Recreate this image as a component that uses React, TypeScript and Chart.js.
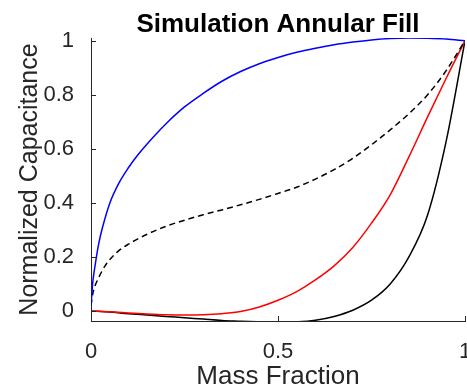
import React, { useEffect, useRef } from "react";
import { Chart, registerables } from "chart.js";

Chart.register(...registerables);

// Mass fraction samples and normalized capacitance for each curve
const blueX = [0, 0.005, 0.01, 0.02, 0.03, 0.05, 0.075, 0.1, 0.125, 0.15, 0.2, 0.25, 0.3, 0.35, 0.4, 0.45, 0.5, 0.55, 0.6, 0.65, 0.7, 0.75, 0.8, 0.85, 0.9, 0.95, 1.0];
const blueY = [0.02, 0.11, 0.16, 0.245, 0.305, 0.398, 0.474, 0.53, 0.577, 0.618, 0.692, 0.755, 0.805, 0.85, 0.886, 0.915, 0.938, 0.957, 0.972, 0.985, 0.995, 1.003, 1.008, 1.01, 1.009, 1.006, 1.0];

const dashedX = [0, 0.005, 0.01, 0.02, 0.04, 0.07, 0.1, 0.15, 0.2, 0.25, 0.3, 0.35, 0.4, 0.45, 0.5, 0.55, 0.6, 0.65, 0.7, 0.75, 0.8, 0.85, 0.9, 0.95, 1.0];
const dashedY = [0.02, 0.065, 0.09, 0.122, 0.172, 0.218, 0.247, 0.284, 0.313, 0.336, 0.356, 0.374, 0.393, 0.413, 0.435, 0.458, 0.488, 0.523, 0.565, 0.615, 0.67, 0.73, 0.8, 0.89, 1.0];

const redX = [0, 0.05, 0.1, 0.15, 0.2, 0.25, 0.3, 0.35, 0.4, 0.45, 0.5, 0.55, 0.6, 0.65, 0.7, 0.75, 0.8, 0.85, 0.9, 0.95, 1.0];
const redY = [0, -0.003, -0.007, -0.011, -0.014, -0.015, -0.014, -0.01, -0.002, 0.015, 0.04, 0.072, 0.115, 0.167, 0.235, 0.325, 0.43, 0.57, 0.718, 0.862, 1.0];

const blackX = [0, 0.05, 0.1, 0.15, 0.2, 0.25, 0.3, 0.35, 0.4, 0.45, 0.5, 0.55, 0.6, 0.65, 0.7, 0.75, 0.8, 0.85, 0.9, 0.95, 1.0];
const blackY = [0, -0.004, -0.01, -0.015, -0.02, -0.025, -0.03, -0.035, -0.038, -0.04, -0.041, -0.04, -0.034, -0.02, 0.003, 0.04, 0.1, 0.2, 0.355, 0.63, 1.0];

const xTickValues = [0, 0.5, 1];
const xTickLabels = ["0", "0.5", "1"];
const yTickValues = [0, 0.2, 0.4, 0.6, 0.8, 1];
const yTickLabels = ["0", "0.2", "0.4", "0.6", "0.8", "1"];

const FONT = "'Liberation Sans', Arial, Helvetica, sans-serif";
const AXIS_COLOR = "#262626";

const toPoints = (xs: number[], ys: number[]) => xs.map((x, i) => ({ x, y: ys[i] }));

// Short tick marks drawn inward from the axis lines
const inwardTicks = {
  id: "inwardTicks",
  afterDraw(chart: any) {
    const { ctx, chartArea, scales } = chart;
    const len = 5;
    ctx.save();
    ctx.strokeStyle = AXIS_COLOR;
    ctx.lineWidth = 1;
    ctx.beginPath();
    xTickValues.forEach((v) => {
      const px = Math.round(scales.x.getPixelForValue(v)) + 0.5;
      ctx.moveTo(px, chartArea.bottom);
      ctx.lineTo(px, chartArea.bottom - len);
    });
    yTickValues.forEach((v) => {
      const py = Math.round(scales.y.getPixelForValue(v)) + 0.5;
      ctx.moveTo(chartArea.left, py);
      ctx.lineTo(chartArea.left + len, py);
    });
    ctx.stroke();
    ctx.restore();
  },
};

export default function App() {
  const canvasRef = useRef<HTMLCanvasElement | null>(null);

  useEffect(() => {
    if (!canvasRef.current) return;
    const common = {
      pointRadius: 0,
      borderWidth: 1.5,
      cubicInterpolationMode: "monotone" as const,
      fill: false,
    };
    const chart = new Chart(canvasRef.current, {
      type: "line",
      data: {
        datasets: [
          { ...common, data: toPoints(blueX, blueY), borderColor: "#0000ff" },
          { ...common, data: toPoints(dashedX, dashedY), borderColor: "#000000", borderDash: [6, 4] },
          { ...common, data: toPoints(redX, redY), borderColor: "#ff0000" },
          { ...common, data: toPoints(blackX, blackY), borderColor: "#000000" },
        ],
      },
      options: {
        responsive: false,
        animation: false,
        layout: { padding: { top: 0, right: 2, left: 0, bottom: 0 } },
        plugins: {
          legend: { display: false },
          tooltip: { enabled: false },
          title: {
            display: true,
            text: "Simulation Annular Fill",
            fullSize: false,
            color: "#000000",
            font: { family: FONT, size: 26, weight: "bold", lineHeight: 1 },
            padding: { top: 12, bottom: 0 },
          },
        },
        scales: {
          x: {
            type: "linear",
            min: 0,
            max: 1,
            grid: { display: false },
            border: { display: true, color: AXIS_COLOR, width: 1 },
            afterFit(scale: any) {
              scale.height = 69;
              scale.paddingLeft = 0;
              scale.paddingRight = 0;
            },
            afterBuildTicks(scale: any) {
              scale.ticks = xTickValues.map((value) => ({ value }));
            },
            ticks: {
              color: AXIS_COLOR,
              font: { family: FONT, size: 22 },
              padding: 10,
              maxRotation: 0,
              callback: (value: any) => xTickLabels[xTickValues.indexOf(Number(value))] ?? "",
            },
            title: {
              display: true,
              text: "Mass Fraction",
              color: AXIS_COLOR,
              font: { family: FONT, size: 26, lineHeight: 1 },
              padding: { top: 0, bottom: 0 },
            },
          },
          y: {
            type: "linear",
            min: -0.037,
            max: 1.01,
            grid: { display: false },
            border: { display: true, color: AXIS_COLOR, width: 1 },
            afterFit(scale: any) {
              scale.width = 91;
              scale.paddingTop = 0;
              scale.paddingBottom = 0;
            },
            afterBuildTicks(scale: any) {
              scale.ticks = yTickValues.map((value) => ({ value }));
            },
            ticks: {
              color: AXIS_COLOR,
              font: { family: FONT, size: 22 },
              padding: 9,
              callback: (value: any) => yTickLabels[yTickValues.indexOf(Number(value))] ?? "",
            },
            title: {
              display: true,
              text: "Normalized Capacitance",
              color: AXIS_COLOR,
              font: { family: FONT, size: 25 },
              padding: { top: 15, bottom: 0 },
            },
          },
        },
      },
      plugins: [inwardTicks],
    });
    return () => chart.destroy();
  }, []);

  return (
    <div style={{ position: "absolute", left: 0, top: 0, width: 467, height: 390, background: "#ffffff" }}>
      <canvas ref={canvasRef} width={467} height={390} />
    </div>
  );
}
